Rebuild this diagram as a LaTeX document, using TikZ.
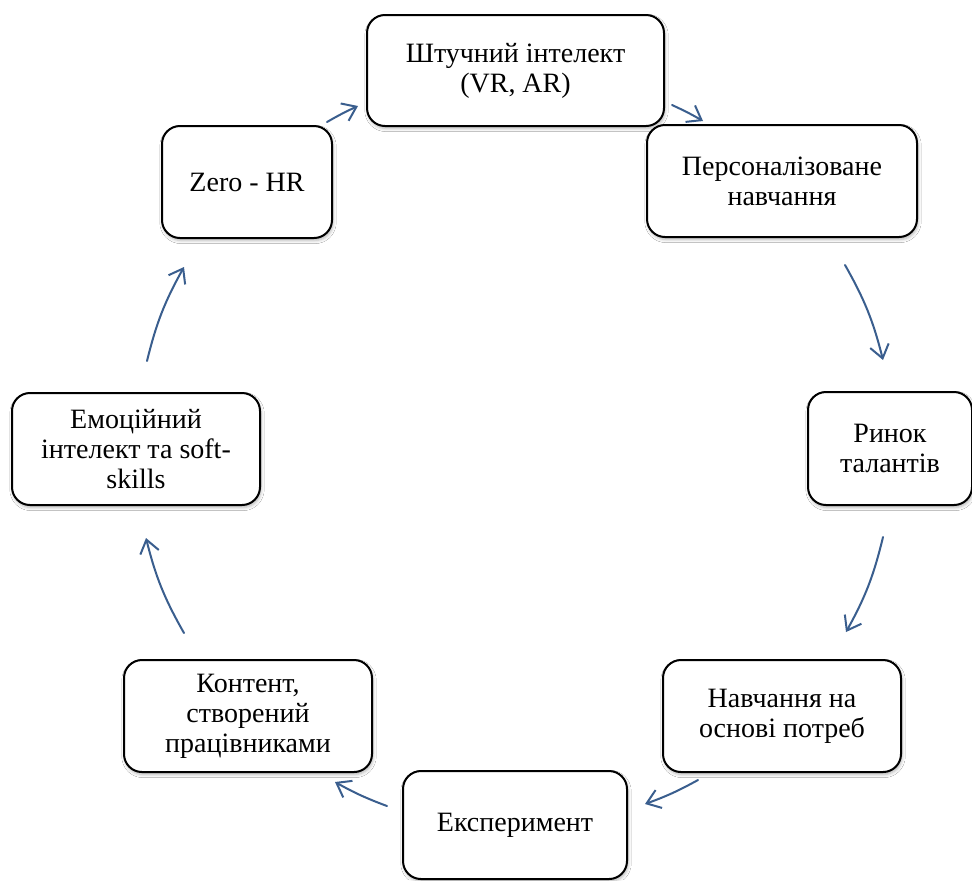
\documentclass[tikz,border=0pt]{standalone}
\usepackage{fontspec}
\setmainfont{Liberation Serif}
\usetikzlibrary{arrows.meta,shadows.blur}
\definecolor{arrowblue}{RGB}{58,94,142}
\tikzset{
  box/.style={draw=black, line width=1pt, fill=white, rounded corners=9pt,
    inner sep=0pt, outer sep=0pt, align=center,
    font=\fontsize{14}{15}\selectfont,
    blur shadow={shadow xshift=0.5pt, shadow yshift=-1.2pt, shadow blur radius=1.6pt, shadow opacity=30}},
  cyc/.style={draw=arrowblue, line width=1pt, line cap=round,
    -{Straight Barb[length=6.5pt,width=9.5pt,line width=1pt]}}
}
\begin{document}
\begin{tikzpicture}[x=0.5pt,y=0.5pt]
\useasboundingbox (0,0) rectangle (972,-880);
\fill[white] (0,0) rectangle (972,-880);
% boxes
\node[box, minimum width=148.5pt, minimum height=55.5pt] (ai) at (515.5,-70.5) {Штучний інтелект\\(VR, AR)};
\node[box, minimum width=135pt, minimum height=56pt] (pers) at (782,-181) {Персоналізоване\\навчання};
\node[box, minimum width=82pt, minimum height=56.5pt] (rynok) at (890,-448.5) {Ринок\\талантів};
\node[box, minimum width=119pt, minimum height=56pt] (potreb) at (782,-716) {Навчання на\\основі потреб};
\node[box, minimum width=112pt, minimum height=54pt] (exp) at (515,-825) {Експеримент};
\node[box, minimum width=124pt, minimum height=56pt] (kontent) at (248,-716) {Контент,\\створений\\працівниками};
\node[box, minimum width=124pt, minimum height=56pt] (emo) at (136,-449) {Емоційний\\інтелект та soft-\\skills};
\node[box, minimum width=85pt, minimum height=56pt] (zero) at (247,-182) {Zero - HR};
% arrow end points
\coordinate (a1s) at (327,-122); \coordinate (a1e) at (358,-106);
\coordinate (a2s) at (672,-105); \coordinate (a2e) at (703,-121);
\coordinate (a3s) at (845,-265); \coordinate (a3e) at (883,-360);
\coordinate (a4s) at (883,-537); \coordinate (a4e) at (846,-632);
\coordinate (a5s) at (698,-780); \coordinate (a5e) at (645,-804);
\coordinate (a6s) at (387,-806); \coordinate (a6e) at (335,-782);
\coordinate (a7s) at (184,-633); \coordinate (a7e) at (146,-538);
\coordinate (a8s) at (147,-361); \coordinate (a8e) at (184,-267);
% arrows
\draw[cyc] (a1s) to[bend left=2.7] (a1e);
\draw[cyc] (a2s) to[bend left=2.7] (a2e);
\draw[cyc] (a3s) to[bend left=7.7] (a3e);
\draw[cyc] (a4s) to[bend left=7.7] (a4e);
\draw[cyc] (a5s) to[bend left=4.4] (a5e);
\draw[cyc] (a6s) to[bend left=4.3] (a6e);
\draw[cyc] (a7s) to[bend left=7.8] (a7e);
\draw[cyc] (a8s) to[bend left=7.7] (a8e);
\end{tikzpicture}
\end{document}
